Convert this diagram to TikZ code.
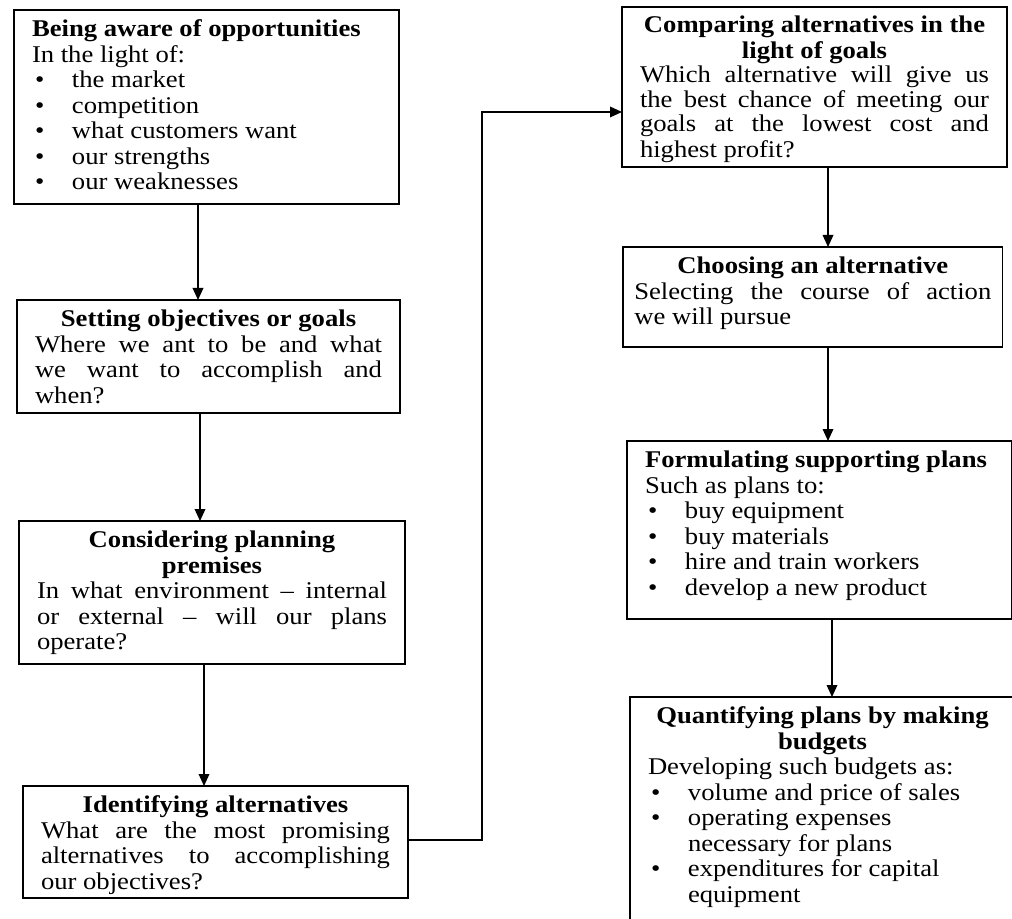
\documentclass[tikz,border=0pt]{standalone}
\usepackage{fontspec}
\setmainfont{Liberation Serif}[FakeStretch=1.11]
\usetikzlibrary{arrows.meta}

% one drawing unit = one pixel of the finished picture
\newdimen\px \px=0.75pt

% fixed-size text panel: [line pitch in px] width, height (in px), body
\newcommand\panel[4][25.5]{\parbox[c][#3\px][t]{#2\px}{%
  \fontsize{18pt}{#1\px}\selectfont
  \parindent=0pt\parskip=0pt
  \vspace*{9\px}#4}}
% line kinds used inside a panel
\newcommand\headC[1]{\leavevmode\strut\makebox[\linewidth][c]{\bfseries #1}\par}
\newcommand\headL[1]{\leavevmode\strut{\bfseries #1}\par}
\newcommand\lineJ[1]{\leavevmode\strut\makebox[\linewidth][s]{#1}\par}
\newcommand\lineL[1]{\leavevmode\strut #1\par}
\newcommand\itemB[1]{\leavevmode\strut\hspace*{3\px}\makebox[37\px][l]{\textbullet}#1\par}
\newcommand\itemC[1]{\leavevmode\strut\hspace*{40\px}#1\par}

\begin{document}
\begin{tikzpicture}[x=0.75pt,y=-0.75pt,
  stage/.style={draw, line width=1.2pt, anchor=north west,
                inner xsep=13.5pt, inner ysep=0pt, outer sep=0pt},
  flow/.style={line width=1pt, -{Triangle[length=9pt,width=8pt]}}]
\useasboundingbox (0,0) rectangle (1012,919);
\clip (0,0) rectangle (1012,919);

% ---- left column ----
\node[stage] (aware) at (14,10) {\panel{349}{194}{%
  \headL{Being aware of opportunities}
  \lineL{In the light of:}
  \itemB{the market}
  \itemB{competition}
  \itemB{what customers want}
  \itemB{our strengths}
  \itemB{our weaknesses}}};

\node[stage] (goals) at (17,300) {\panel{347}{113}{%
  \headC{Setting objectives or goals}
  \lineJ{Where we ant to be and what}
  \lineJ{we want to accomplish and}
  \lineL{when?}}};

\node[stage] (premises) at (19,521) {\panel{350}{143}{%
  \headC{Considering planning}
  \headC{premises}
  \lineJ{In what environment -- internal}
  \lineJ{or external -- will our plans}
  \lineL{operate?}}};

\node[stage] (options) at (23,786) {\panel{349}{112}{%
  \headC{Identifying alternatives}
  \lineJ{What are the most promising}
  \lineJ{alternatives to accomplishing}
  \lineL{our objectives?}}};

% ---- right column ----
\node[stage] (compare) at (622,7) {\panel[24]{349}{160}{%
  \headC{Comparing alternatives in the}
  \headC{light of goals}
  \lineJ{Which alternative will give us}
  \lineJ{the best chance of meeting our}
  \lineJ{goals at the lowest cost and}
  \lineL{highest profit?}}};

\node[stage, inner xsep=8.5pt] (choose) at (623,247) {\panel{357}{100}{%
  \headC{Choosing an alternative}
  \lineJ{Selecting the course of action}
  \lineL{we will pursue}}};

\node[stage] (support) at (627,441) {\panel{349}{178}{%
  \headL{Formulating supporting plans}
  \lineL{Such as plans to:}
  \itemB{buy equipment}
  \itemB{buy materials}
  \itemB{hire and train workers}
  \itemB{develop a new product}}};

\node[stage] (budget) at (630,697) {\panel{349}{240}{%
  \headC{Quantifying plans by making}
  \headC{budgets}
  \lineL{Developing such budgets as:}
  \itemB{volume and price of sales}
  \itemB{operating expenses}
  \itemC{necessary for plans}
  \itemB{expenditures for capital}
  \itemC{equipment}}};

% ---- connectors ----
\coordinate (col1) at (198,0);
\coordinate (col2) at (200,0);
\coordinate (col3) at (204,0);
\coordinate (col5) at (828,0);
\coordinate (col7) at (832,0);
\coordinate (exit) at (0,840);
\coordinate (bend) at (482,112);

\draw[flow] (aware.south -| col1) -- (goals.north -| col1);
\draw[flow] (goals.south -| col2) -- (premises.north -| col2);
\draw[flow] (premises.south -| col3) -- (options.north -| col3);
\draw[flow] (options.east |- exit) -| (bend) -- (compare.west |- bend);
\draw[flow] (compare.south -| col5) -- (choose.north -| col5);
\draw[flow] (choose.south -| col5) -- (support.north -| col5);
\draw[flow] (support.south -| col7) -- (budget.north -| col7);
\end{tikzpicture}
\end{document}
